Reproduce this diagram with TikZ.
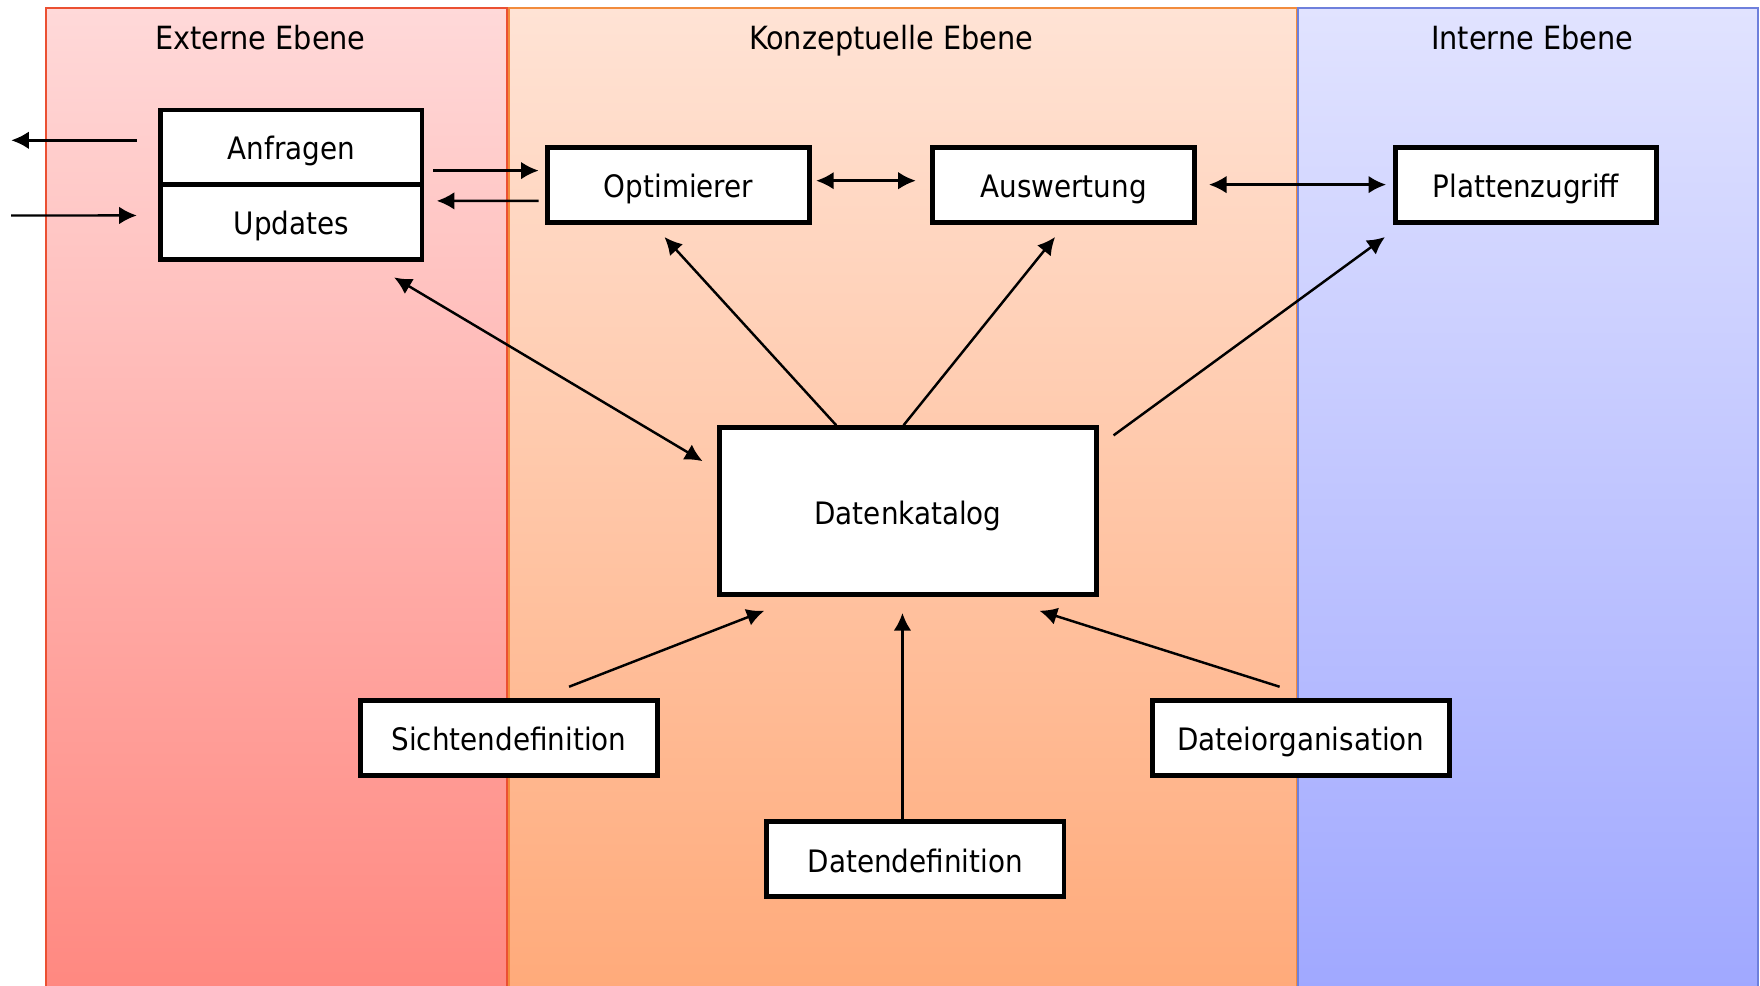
\documentclass[tikz,border=0pt]{standalone}
\usepackage{fontspec}
\setmainfont{DejaVu Sans Condensed}
\usetikzlibrary{arrows.meta,positioning}

\definecolor{rotoben}{RGB}{255,217,217}
\definecolor{rotunten}{RGB}{255,136,128}
\definecolor{rotrand}{RGB}{235,80,50}
\definecolor{orangeoben}{RGB}{255,227,213}
\definecolor{orangeunten}{RGB}{255,170,122}
\definecolor{orangerand}{RGB}{242,140,60}
\definecolor{blauoben}{RGB}{225,227,255}
\definecolor{blauunten}{RGB}{160,168,255}
\definecolor{blaurand}{RGB}{110,128,220}

\begin{document}
\begin{tikzpicture}[x=0.011224cm, y=-0.011224cm,
        font=\fontsize{8.8}{10}\selectfont, text height=0.73em, text depth=0pt,
        titel/.style={font=\fontsize{9.1}{10}\selectfont},
        kasten/.style={draw=black, line width=1.4pt, fill=white, inner sep=0pt,
            minimum width=2.615cm, minimum height=0.752cm},
        pfeil/.style={line width=0.7pt, -{Latex[length=5pt,width=5pt]}},
        doppel/.style={line width=0.7pt, {Latex[length=5pt,width=5pt]}-{Latex[length=5pt,width=5pt]}}]
    \useasboundingbox (0,0) rectangle (1568,878);

    % Ebenen
    \shade[top color=rotoben, bottom color=rotunten] (41,7) rectangle (452,882);
    \shade[top color=orangeoben, bottom color=orangeunten] (452,7) rectangle (1155,882);
    \shade[top color=blauoben, bottom color=blauunten] (1155,7) rectangle (1566,882);
    \draw[rotrand, line width=0.5pt] (41,882) -- (41,7) -- (452,7) -- (452,882);
    \draw[orangerand, line width=0.5pt] (453.5,882) -- (453.5,7) -- (1155,7) -- (1155,882);
    \draw[blaurand, line width=0.5pt] (1156.5,882) -- (1156.5,7) -- (1566,7) -- (1566,882);
    \node[titel] (titelext) at (232,33) {Externe Ebene};
    \node[titel] (titelkonz) at (794,33) {Konzeptuelle Ebene};
    \node[titel] (titelint) at (1365,33) {Interne Ebene};

    % Kaesten
    \node[kasten, minimum height=0.741cm] (anf) at (259.5,131) {Anfragen};
    \node[kasten, below=-1.4pt of anf] (upd) {Updates};
    \node[kasten] (opt) at (604.5,164.5) {Optimierer};
    \node[kasten] (ausw) at (947.5,164.5) {Auswertung};
    \node[kasten] (platte) at (1359.5,164.5) {Plattenzugriff};
    \node[kasten, minimum width=3.771cm, minimum height=1.672cm] (kat) at (809,455.5) {Datenkatalog};
    \node[kasten, minimum width=2.974cm] (sicht) at (453.5,657.5) {Sichtendefinition};
    \node[kasten, minimum width=2.974cm] (org) at (1159,657.5) {Dateiorganisation};
    \node[kasten, minimum width=2.974cm] (datdef) at (815.5,765.5) {Datendefinition};

    % Pfeile
    \coordinate (raus) at (10,125);
    \coordinate (rein) at (10,192);
    \draw[pfeil] ([shift={(-19,-6)}]anf.west) -- (raus);
    \draw[pfeil] (rein) -- ([shift={(-19,-5.5)}]upd.west);
    \draw[pfeil] ([shift={(8,21)}]anf.east) -- ([shift={(-6,-12.5)}]opt.west);
    \draw[pfeil] ([shift={(-6,14.5)}]opt.west) -- ([shift={(11,-18.5)}]upd.east);
    \draw[doppel] ([shift={(4,-3.5)}]opt.east) -- ([shift={(-13,-3.5)}]ausw.west);
    \draw[doppel] ([shift={(11,0)}]ausw.east) -- ([shift={(-6,0)}]platte.west);
    \draw[doppel] ([shift={(-13,32)}]kat.north west) -- ([shift={(-27,14)}]upd.south east);
    \draw[pfeil] ([shift={(-64,0)}]kat.north) -- ([shift={(-12.5,11)}]opt.south);
    \draw[pfeil] ([shift={(-4,0)}]kat.north) -- ([shift={(-7.5,11)}]ausw.south);
    \draw[pfeil] ([shift={(13,9)}]kat.north east) -- ([shift={(-7,11)}]platte.south west);
    \draw[pfeil] ([shift={(53.5,-10)}]sicht.north) -- ([shift={(42,12)}]kat.south west);
    \draw[pfeil] ([shift={(-11.5,0)}]datdef.north) -- ([shift={(-5,14)}]kat.south);
    \draw[pfeil] ([shift={(-19,-10)}]org.north) -- ([shift={(-53,12)}]kat.south east);
\end{tikzpicture}
\end{document}
